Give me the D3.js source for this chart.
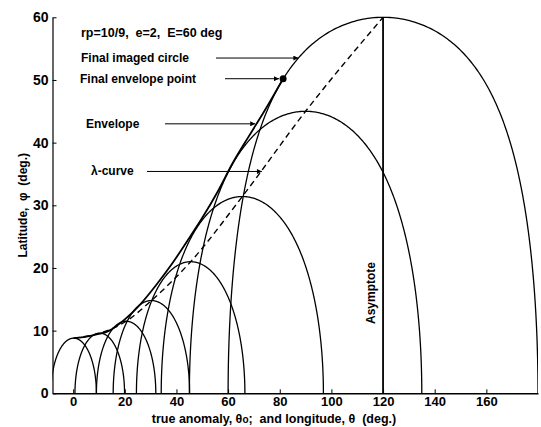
<!DOCTYPE html>
<html>
<head>
<meta charset="utf-8">
<script src="https://cdn.jsdelivr.net/npm/d3@7"></script>
<style>
  body { margin: 0; background: #fff; }
  text { font-family: "Liberation Sans", Arial, sans-serif; fill: #000; white-space: pre; }
</style>
</head>
<body>
<div id="chart"></div>
<script>
// imaged circles: centre longitude on the equator and angular radius (deg)
const archCenters = [0.2, 10.3, 20.5, 30.3, 45.5, 65.5, 90, 120];
const archRadii = [8.8, 9.6, 11.5, 14.8, 21, 31.4, 45, 60];

// envelope of the circles
const envelopeLon = [0.2, 4, 8, 14, 20, 26, 32, 38, 44, 50, 56, 62, 68, 74, 81.3];
const envelopeLat = [8.8, 8.95, 9.3, 10.0, 11.8, 14.2, 17.2, 20.5, 24.2, 28.0, 32.2, 36.9, 41.0, 45.0, 50.2];

// lambda-curve runs through the tops of the circles
const lambdaLon = [0.2, 10.3, 20.5, 30.3, 45.5, 65.5, 90, 120];
const lambdaLat = [8.8, 9.6, 11.5, 14.8, 21, 31.4, 45, 60];

const asymptoteLon = 120;
const finalPoint = [81.3, 50.2];

const xTicks = [0, 20, 40, 60, 80, 100, 120, 140, 160];
const yTicks = [0, 10, 20, 30, 40, 50, 60];

// config
const width = 541;
const height = 427;

const x = d3.scaleLinear().domain([-8, 180]).range([52.5, 538]);
const y = d3.scaleLinear().domain([0, 60]).range([393.3, 17.3]);

const svg = d3.select("#chart")
  .append("svg")
  .attr("width", width)
  .attr("height", height);

const defs = svg.append("defs");
defs.append("clipPath")
  .attr("id", "plotClip")
  .append("rect")
  .attr("x", x(-8))
  .attr("y", 0)
  .attr("width", x(180) - x(-8))
  .attr("height", y(0) - 0);

defs.append("marker")
  .attr("id", "arrow")
  .attr("viewBox", "0 0 10 10")
  .attr("refX", 10)
  .attr("refY", 5)
  .attr("markerWidth", 8)
  .attr("markerHeight", 5)
  .attr("markerUnits", "userSpaceOnUse")
  .attr("orient", "auto")
  .append("path")
  .attr("d", "M0,0L10,5L0,10z")
  .attr("fill", "#000");

// axes
const xAxis = d3.axisBottom(x).tickValues(xTicks).tickSize(-4).tickSizeOuter(0).tickPadding(3);
const yAxis = d3.axisLeft(y).tickValues(yTicks).tickSize(-4).tickSizeOuter(0).tickPadding(4);

svg.append("g")
  .attr("transform", "translate(0," + y(0) + ")")
  .call(xAxis)
  .call(g => g.selectAll(".domain").attr("stroke", "#000").attr("stroke-width", 1.4))
  .call(g => g.selectAll(".tick line").attr("stroke", "#000"))
  .call(g => g.selectAll(".tick text")
    .style("font-size", "13px").style("font-weight", "bold")
    .style("font-family", "'Liberation Sans', Arial, sans-serif"));

svg.append("g")
  .attr("transform", "translate(" + x(-8) + ",0)")
  .call(yAxis)
  .call(g => g.selectAll(".domain").attr("stroke", "#000").attr("stroke-width", 1.2))
  .call(g => g.selectAll(".tick line").attr("stroke", "#000"))
  .call(g => g.selectAll(".tick text")
    .style("font-size", "14px").style("font-weight", "bold")
    .style("font-family", "'Liberation Sans', Arial, sans-serif"));

// circles on the sphere, drawn in lon/lat
const plot = svg.append("g").attr("clip-path", "url(#plotClip)");

const lineXY = d3.line().x(d => x(d[0])).y(d => y(d[1]));

archCenters.forEach((c, i) => {
  const r = archRadii[i];
  const ring = d3.geoCircle().center([c, 0]).radius(r).precision(0.5)().coordinates[0]
    .map(p => [p[0] < c - r - 1 ? p[0] + 360 : p[0], p[1]]);
  plot.append("path")
    .attr("d", lineXY(ring))
    .attr("fill", "none")
    .attr("stroke", "#000")
    .attr("stroke-width", 1.3);
});

// envelope
const envelope = envelopeLon.map((d, i) => [d, envelopeLat[i]]);
plot.append("path")
  .attr("d", d3.line().x(d => x(d[0])).y(d => y(d[1])).curve(d3.curveMonotoneX)(envelope))
  .attr("fill", "none")
  .attr("stroke", "#000")
  .attr("stroke-width", 1.8);

// lambda curve
const lambda = lambdaLon.map((d, i) => [d, lambdaLat[i]]);
plot.append("path")
  .attr("d", d3.line().x(d => x(d[0])).y(d => y(d[1])).curve(d3.curveMonotoneX)(lambda))
  .attr("fill", "none")
  .attr("stroke", "#000")
  .attr("stroke-width", 1.4)
  .attr("stroke-dasharray", "6,4");

// asymptote
svg.append("line")
  .attr("x1", x(asymptoteLon)).attr("x2", x(asymptoteLon))
  .attr("y1", y(0)).attr("y2", y(60))
  .attr("stroke", "#000")
  .attr("stroke-width", 1.8);

svg.append("text")
  .attr("transform", "translate(" + (x(asymptoteLon) - 8) + "," + y(16) + ") rotate(-90)")
  .attr("text-anchor", "middle")
  .style("font-size", "12px")
  .style("font-weight", "bold")
  .text("Asymptote");

// final envelope point
svg.append("circle")
  .attr("cx", x(finalPoint[0]))
  .attr("cy", y(finalPoint[1]))
  .attr("r", 3.5)
  .attr("fill", "#000");

// annotations
svg.append("text")
  .attr("x", 81).attr("y", 37)
  .style("font-size", "12.5px").style("font-weight", "bold")
  .text("rp=10/9,  e=2,  E=60 deg");

const notes = [
  { label: "Final imaged circle", tx: 81, x0: 216, target: [87.2, 53.5] },
  { label: "Final envelope point", tx: 80, x0: 225, target: [finalPoint[0] - 1.6, finalPoint[1]] },
  { label: "Envelope", tx: 86, x0: 165, target: [70.5, 43] },
  { label: "\u03bb-curve", tx: 91, x0: 147, target: [73.1, 35.4] }
];

notes.forEach(n => {
  const ty = y(n.target[1]);
  svg.append("text")
    .attr("x", n.tx).attr("y", ty + 4)
    .style("font-size", "12px").style("font-weight", "bold")
    .text(n.label);
  svg.append("line")
    .attr("x1", n.x0).attr("x2", x(n.target[0]))
    .attr("y1", ty).attr("y2", ty)
    .attr("stroke", "#000")
    .attr("stroke-width", 1)
    .attr("marker-end", "url(#arrow)");
});

// axis titles
svg.append("text")
  .attr("transform", "translate(27," + y(30) + ") rotate(-90)")
  .attr("text-anchor", "middle")
  .style("font-size", "12px")
  .style("font-weight", "bold")
  .text("Latitude,  \u03c6  (deg.)");

const xTitle = svg.append("text")
  .attr("x", 274).attr("y", 423)
  .attr("text-anchor", "middle")
  .style("font-size", "12.5px")
  .style("font-weight", "bold");
xTitle.append("tspan").text("true anomaly, \u03b8");
xTitle.append("tspan").style("font-size", "10px").text("o");
xTitle.append("tspan").text(";  and longitude, \u03b8  (deg.)");
</script>
</body>
</html>
